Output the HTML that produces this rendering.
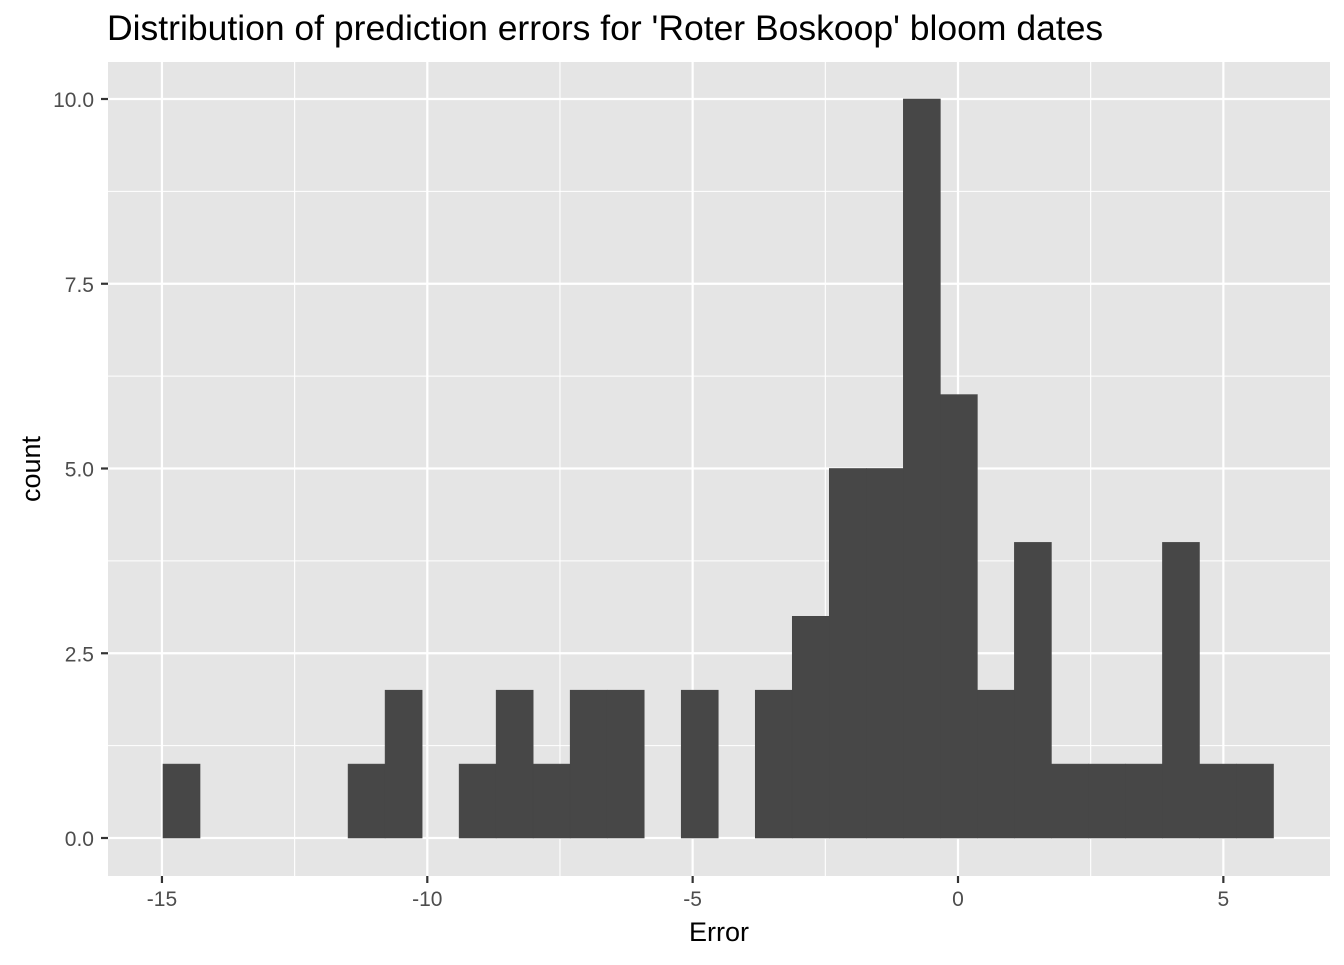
<!DOCTYPE html>
<html><head><meta charset="utf-8"><style>
body{margin:0;background:#fff;}
svg text{font-family:"Liberation Sans",Arial,sans-serif;}
</style></head><body>
<svg id="chart" width="1344" height="960" xmlns="http://www.w3.org/2000/svg">
<rect x="108" y="62" width="1222" height="814" fill="#e5e5e5"/>
<text x="107" y="40" font-size="35.5" fill="#000">Distribution of prediction errors for 'Roter Boskoop' bloom dates</text>
<g id="grid"></g>
<g id="bars"></g>
<g id="axes"></g>
<text x="719" y="941" font-size="27" text-anchor="middle" fill="#000">Error</text>
<text transform="translate(40,469) rotate(-90)" font-size="27" text-anchor="middle" fill="#000">count</text>
</svg>
<script>
const binStart = -14.98;
const binWidth = 0.6975;
const counts = [1,0,0,0,0,1,2,0,1,2,1,2,2,0,2,0,2,3,5,5,10,6,2,4,1,1,1,4,1,1];
const xTicks = [-15,-10,-5,0,5];
const xTickLabels = ["-15","-10","-5","0","5"];
const xMinor = [-12.5,-7.5,-2.5,2.5];
const yTicks = [0,2.5,5,7.5,10];
const yTickLabels = ["0.0","2.5","5.0","7.5","10.0"];
const yMinor = [1.25,3.75,6.25,8.75];

const NS="http://www.w3.org/2000/svg";
const X=v=>958+(v-0)*53.07;
const Y=v=>838-v*73.9;
const L=108,R=1330,T=62,B=876;
function mk(tag,attrs,parent){const e=document.createElementNS(NS,tag);for(const k in attrs)e.setAttribute(k,attrs[k]);parent.appendChild(e);return e;}
const grid=document.getElementById('grid'),bars=document.getElementById('bars'),axes=document.getElementById('axes');
xMinor.forEach(v=>{const l=mk('line',{x1:X(v),x2:X(v),y1:T,y2:B,stroke:'#fff','stroke-width':1.1},grid);

});
yMinor.forEach(v=>{const l=mk('line',{x1:L,x2:R,y1:Y(v),y2:Y(v),stroke:'#fff','stroke-width':1.1},grid);

});
xTicks.forEach((v,i)=>{const l=mk('line',{x1:X(v),x2:X(v),y1:T,y2:B,stroke:'#fff','stroke-width':2.2},grid);


const t=mk('line',{x1:X(v),x2:X(v),y1:B,y2:B+7,stroke:'#333','stroke-width':2.2},axes);


const tx=mk('text',{x:X(v),y:B+30,'font-size':21,'text-anchor':'middle',fill:'#4d4d4d'},axes);tx.textContent=xTickLabels[i];

});
yTicks.forEach((v,i)=>{const l=mk('line',{x1:L,x2:R,y1:Y(v),y2:Y(v),stroke:'#fff','stroke-width':2.2},grid);


const t=mk('line',{x1:L-7,x2:L,y1:Y(v),y2:Y(v),stroke:'#333','stroke-width':2.2},axes);


const tx=mk('text',{x:L-14,y:Y(v)+8,'font-size':21,'text-anchor':'end',fill:'#4d4d4d'},axes);tx.textContent=yTickLabels[i];

});
counts.forEach((c,i)=>{if(c<=0)return;const x0=X(binStart+i*binWidth),x1=X(binStart+(i+1)*binWidth);
const r=mk('rect',{x:x0,y:Y(c),width:x1-x0,height:Y(0)-Y(c),fill:'#474747',stroke:'#474747','stroke-width':0.6},bars);

});
</script>
</body></html>
